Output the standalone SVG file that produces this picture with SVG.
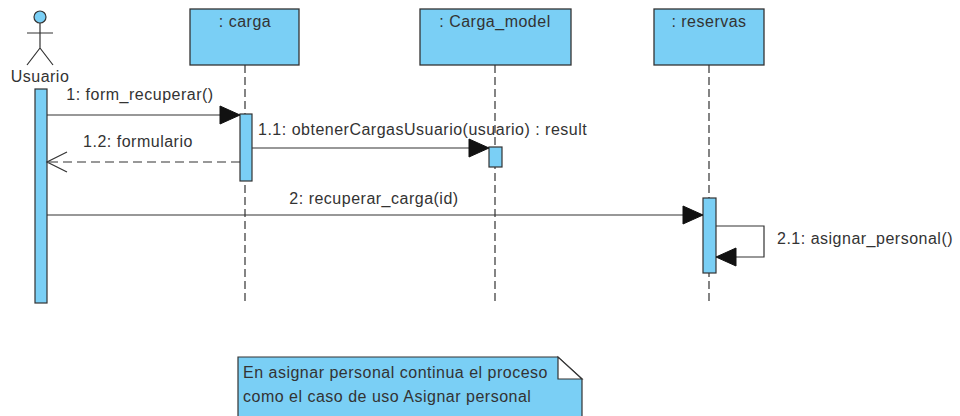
<svg xmlns="http://www.w3.org/2000/svg" width="960" height="416" viewBox="0 0 960 416">
<style>
text{font-family:"Liberation Sans",Arial,sans-serif;font-size:16px;fill:#333;letter-spacing:0.5px}
.box{fill:#7ACFF5;stroke:#333;stroke-width:1.3}
.act{fill:#7ACFF5;stroke:#333;stroke-width:1.2}
.life{stroke:#333;stroke-width:1.2;stroke-dasharray:8,4;fill:none}
.msg{stroke:#333;stroke-width:1.2;fill:none}
.ret{stroke:#333;stroke-width:1.2;fill:none;stroke-dasharray:9,5}
.head{fill:#111;stroke:#111;stroke-width:1}
.mid{text-anchor:middle}
</style>
<rect width="960" height="416" fill="#fff"/>
<g id="usuario">
<circle cx="40" cy="17" r="6" fill="#7ACFF5" stroke="#333" stroke-width="1.2"/>
<path d="M40 23V48M27 33H53M40 48L27 65M40 48L53 65" stroke="#333" stroke-width="1.2" fill="none"/>
<text x="40" y="82" class="mid">Usuario</text>
<rect class="act" x="35" y="89" width="12" height="214"/>
</g>
<g id="carga">
<rect class="box" x="190" y="9" width="109" height="56"/>
<text x="245" y="27" class="mid">: carga</text>
<line class="life" x1="245" y1="65" x2="245" y2="305"/>
<rect class="act" x="240" y="114" width="12" height="67"/>
</g>
<g id="carga_model">
<rect class="box" x="420" y="9" width="151" height="56"/>
<text x="495" y="27" class="mid">: Carga_model</text>
<line class="life" x1="495" y1="65" x2="495" y2="305"/>
<rect class="act" x="489" y="147" width="13" height="20"/>
</g>
<g id="reservas">
<rect class="box" x="654" y="9" width="110" height="56"/>
<text x="709" y="27" class="mid">: reservas</text>
<line class="life" x1="709" y1="65" x2="709" y2="305"/>
<rect class="act" x="703" y="198" width="13" height="75"/>
</g>
<g id="connectors">
<line class="msg" x1="47" y1="115" x2="222" y2="115"/>
<path class="head" d="M240 115L220 106L220 124Z"/>
<text x="140" y="100" class="mid">1: form_recuperar()</text>
<line class="msg" x1="252" y1="148" x2="472" y2="148"/>
<path class="head" d="M489 148L469 139L469 157Z"/>
<text x="258" y="135">1.1: obtenerCargasUsuario(usuario) : result</text>
<line class="ret" x1="240" y1="162" x2="48" y2="162"/>
<path class="msg" d="M67 152L47 162L67 172"/>
<text x="138" y="147" class="mid">1.2: formulario</text>
<line class="msg" x1="47" y1="215" x2="685" y2="215"/>
<path class="head" d="M703 215L683 206L683 224Z"/>
<text x="374" y="204" class="mid">2: recuperar_carga(id)</text>
<path class="msg" d="M716 226H764V257H734"/>
<path class="head" d="M716 257L736 248L736 266Z"/>
<text x="777" y="244">2.1: asignar_personal()</text>
</g>
<g id="note">
<path d="M238 357H558L582 379V420H238Z" fill="#7ACFF5" stroke="#333" stroke-width="1.2"/>
<path d="M558 357V379H582Z" fill="#fff" stroke="#333" stroke-width="1.2"/>
<text x="243" y="378">En asignar personal continua el proceso</text>
<text x="243" y="402">como el caso de uso Asignar personal</text>
</g>
</svg>
